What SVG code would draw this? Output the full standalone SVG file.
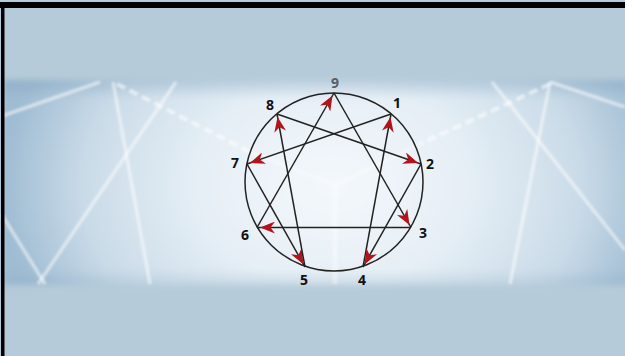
<svg xmlns="http://www.w3.org/2000/svg" width="625" height="356" viewBox="0 0 625 356">
  <defs>
    <radialGradient id="bandGrad" cx="332" cy="185" r="330" gradientUnits="userSpaceOnUse" gradientTransform="translate(332 185) scale(1 0.75) translate(-332 -185)">
      <stop offset="0" stop-color="#f4f8fb"/>
      <stop offset="0.4" stop-color="#e6eff6"/>
      <stop offset="0.75" stop-color="#cadbe8"/>
      <stop offset="1" stop-color="#9fbcd3"/>
    </radialGradient>
    <linearGradient id="bandShade" x1="0" y1="78" x2="0" y2="290" gradientUnits="userSpaceOnUse">
      <stop offset="0" stop-color="#7c9fbc" stop-opacity="0.45"/>
      <stop offset="0.1" stop-color="#7c9fbc" stop-opacity="0"/>
      <stop offset="0.9" stop-color="#7c9fbc" stop-opacity="0"/>
      <stop offset="1" stop-color="#7c9fbc" stop-opacity="0.3"/>
    </linearGradient>
    <filter id="soft" x="-5%" y="-10%" width="110%" height="120%">
      <feGaussianBlur stdDeviation="3"/>
    </filter>
    <filter id="softLine" x="-10%" y="-10%" width="120%" height="120%">
      <feGaussianBlur stdDeviation="0.8"/>
    </filter>
    <marker id="arrow" markerUnits="userSpaceOnUse" markerWidth="18" markerHeight="12" viewBox="0 0 18 12" refX="18" refY="6" orient="auto">
      <path d="M15,6 L0,0 L4.5,6 L0,12 Z" fill="#b3141c"/>
    </marker>
    <style>
      .chord { stroke: #222; stroke-width: 1.5; fill: none; }
      .lbl { font-family: "Open Sans", "Liberation Sans", sans-serif; font-weight: bold; font-size: 14px; fill: #111; text-anchor: middle; }
      .bgline { stroke: #ffffff; stroke-opacity: 0.5; stroke-width: 3.5; fill: none; }
      .bgdash { stroke: #ffffff; stroke-opacity: 0.55; stroke-width: 4; fill: none; stroke-dasharray: 9 5; }
    </style>
  </defs>

  <!-- background -->
  <rect x="0" y="0" width="625" height="356" fill="#b6cbd9"/>
  <g filter="url(#soft)">
    <rect x="3" y="80" width="625" height="205" fill="url(#bandGrad)"/>
    <rect x="3" y="80" width="625" height="205" fill="url(#bandShade)"/>
  </g>
  <g filter="url(#softLine)">
    <line class="bgline" x1="2" y1="116" x2="100" y2="82"/>
    <line class="bgline" x1="113" y1="82" x2="150" y2="284"/>
    <line class="bgline" x1="176" y1="82" x2="38" y2="284"/>
    <line class="bgline" x1="2" y1="215" x2="45" y2="284"/>
    <line class="bgdash" x1="117" y1="84" x2="250" y2="152"/>
    <line class="bgline" x1="492" y1="82" x2="625" y2="250"/>
    <line class="bgline" x1="550" y1="82" x2="510" y2="284"/>
    <line class="bgline" x1="550" y1="82" x2="625" y2="107"/>
    <line class="bgdash" x1="550" y1="84" x2="420" y2="144"/>
    <line x1="335" y1="185" x2="335" y2="284" stroke="#ffffff" stroke-opacity="0.35" stroke-width="5"/>
    <line x1="250" y1="152" x2="335" y2="185" stroke="#ffffff" stroke-opacity="0.3" stroke-width="4"/>
    <line x1="420" y1="144" x2="335" y2="185" stroke="#ffffff" stroke-opacity="0.3" stroke-width="4"/>
  </g>

  <!-- frame -->
  <rect x="0" y="2" width="625" height="6" fill="#000"/>
  <rect x="1" y="2" width="3.5" height="354" fill="#000"/>

  <!-- circle -->
  <g id="circle">
    <circle cx="334" cy="182" r="89" fill="none" stroke="#222" stroke-width="1.5"/>
  </g>

  <!-- connectors -->
  <g id="connectors">
    <path class="chord" d="M257,227.5 L334,93" marker-end="url(#arrow)"/>
    <path class="chord" d="M334,93 L411,227.5" marker-end="url(#arrow)"/>
    <path class="chord" d="M411,227.5 L257,227.5" marker-end="url(#arrow)"/>
    <path class="chord" d="M363,267 L391,114" marker-end="url(#arrow)"/>
    <path class="chord" d="M391,114 L247,164" marker-end="url(#arrow)"/>
    <path class="chord" d="M247,164 L305,267" marker-end="url(#arrow)"/>
    <path class="chord" d="M305,267 L277,114" marker-end="url(#arrow)"/>
    <path class="chord" d="M277,114 L421,164" marker-end="url(#arrow)"/>
    <path class="chord" d="M421,164 L363,267" marker-end="url(#arrow)"/>
  </g>

  <!-- point labels -->
  <g id="p9"><text class="lbl" x="335" y="88" style="fill:#5a5f66">9</text></g>
  <g id="p1"><text class="lbl" x="397" y="108">1</text></g>
  <g id="p2"><text class="lbl" x="430" y="169">2</text></g>
  <g id="p3"><text class="lbl" x="423" y="238">3</text></g>
  <g id="p4"><text class="lbl" x="362" y="285">4</text></g>
  <g id="p5"><text class="lbl" x="304" y="285">5</text></g>
  <g id="p6"><text class="lbl" x="245" y="240">6</text></g>
  <g id="p7"><text class="lbl" x="235" y="168">7</text></g>
  <g id="p8"><text class="lbl" x="270" y="110">8</text></g>
</svg>
